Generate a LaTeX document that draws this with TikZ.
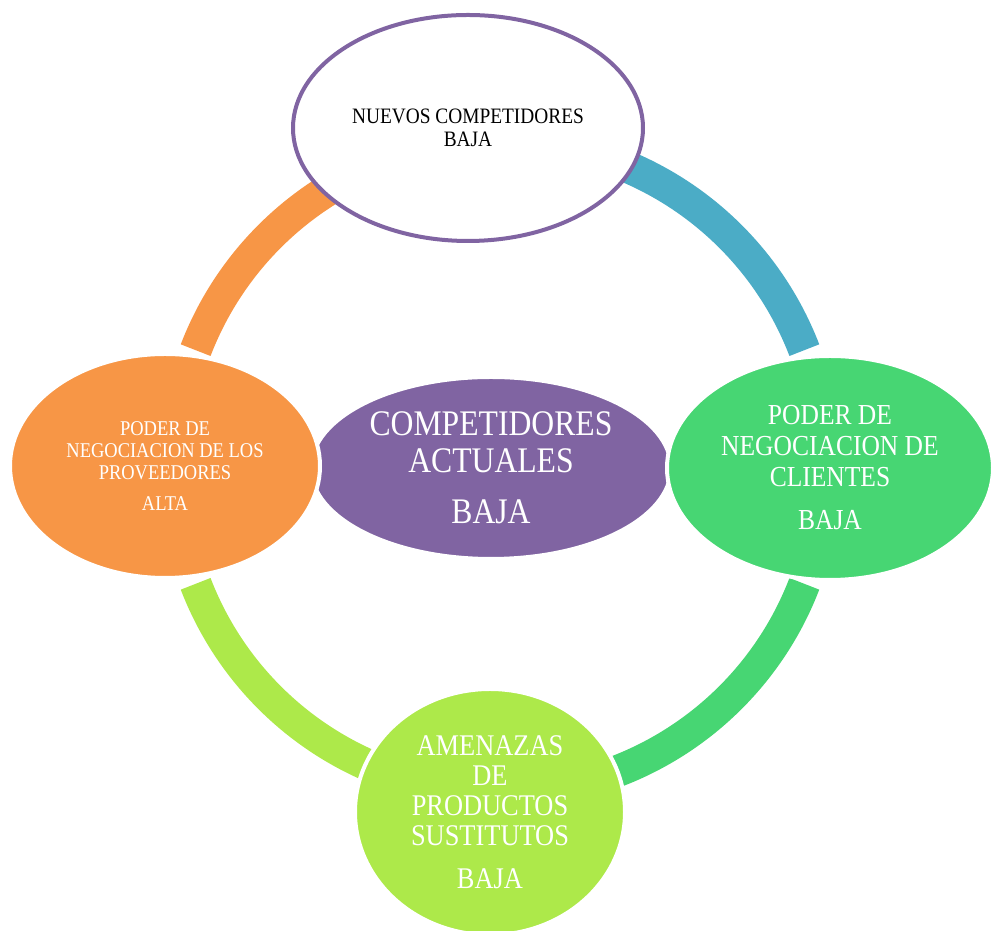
\documentclass[tikz,border=0pt]{standalone}
\usepackage{fontspec}
\setmainfont[FakeStretch=0.88]{Liberation Serif}
\usepackage{tikz}
\usetikzlibrary{shapes.geometric,calc}
\definecolor{porterpurple}{HTML}{8064A2}
\definecolor{porterorange}{HTML}{F79646}
\definecolor{porterblue}{HTML}{4BACC6}
\definecolor{portergreen}{HTML}{47D673}
\definecolor{porterlime}{HTML}{ADE94A}
\tikzstyle{ring} = [line width=16pt]
\tikzstyle{force} = [ellipse,draw=white,line width=2pt,text=white,align=center,inner sep=0pt]

\begin{document}
\begin{tikzpicture}[x=0.5pt,y=0.5pt]
\useasboundingbox (0,0) rectangle (991,931);
\coordinate (c) at (500,464);
\draw[ring,porterorange] ($(c)+(159:326)$) arc (159:110:326);
\draw[ring,porterblue] ($(c)+(21:326)$) arc (21:70:326);
\draw[ring,portergreen] ($(c)+(-21:326)$) arc (-21:-70:326);
\draw[ring,porterlime] ($(c)+(-159:326)$) arc (-159:-110:326);
\node[force,draw=porterpurple,fill=white,text=black,minimum width=175pt,minimum height=113pt,font=\fontsize{11}{11.5}\selectfont] (nuevos) at (468,803) {NUEVOS COMPETIDORES\\BAJA};
\node[force,fill=porterpurple,minimum width=180pt,minimum height=91pt,font=\fontsize{18}{18.5}\selectfont] (actuales) at (491,463) {COMPETIDORES\\ACTUALES\\[7pt]BAJA};
\node[force,fill=porterorange,minimum width=155pt,minimum height=112pt,font=\fontsize{10.5}{11}\selectfont] (proveedores) at (165,465) {PODER DE\\NEGOCIACION DE LOS\\PROVEEDORES\\[4.5pt]ALTA};
\node[force,fill=portergreen,minimum width=163pt,minimum height=112pt,font=\fontsize{14.5}{15.5}\selectfont] (clientes) at (830,463) {PODER DE\\NEGOCIACION DE\\CLIENTES\\[6pt]BAJA};
\node[force,fill=porterlime,minimum width=135pt,minimum height=123pt,font=\fontsize{15}{15}\selectfont] (sustitutos) at (490,119) {AMENAZAS\\DE\\PRODUCTOS\\SUSTITUTOS\\[6.5pt]BAJA};
\end{tikzpicture}
\end{document}
